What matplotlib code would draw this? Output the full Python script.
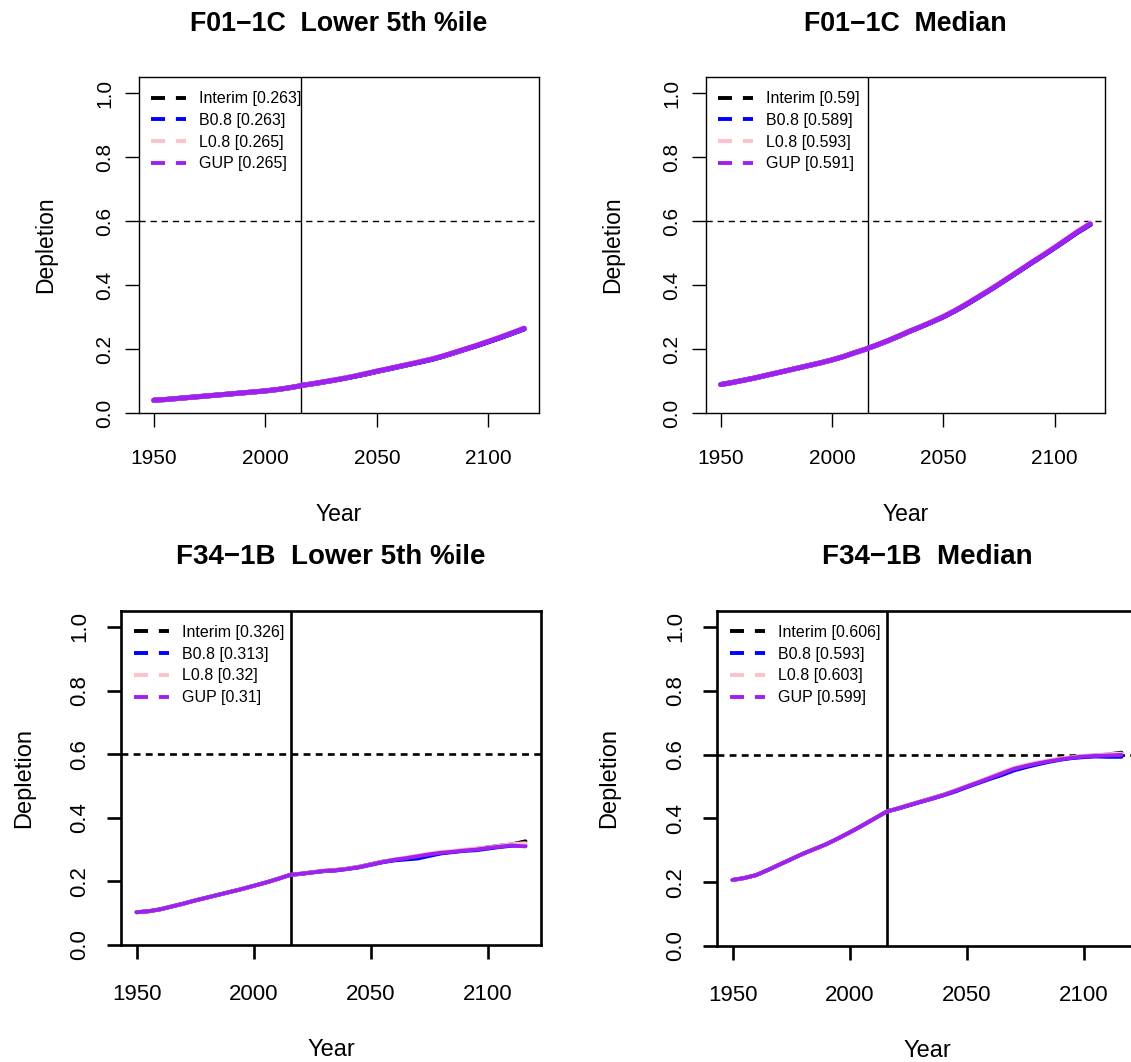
import matplotlib
matplotlib.use("Agg")
import matplotlib.pyplot as plt
from matplotlib.lines import Line2D

plt.rcParams["font.family"] = ["Liberation Sans", "DejaVu Sans"]

W, H = 1131, 1062

# ── Years ──────────────────────────────────────────────────────────────────
HIST_YEARS = [1950, 1955, 1960, 1965, 1970, 1975, 1980, 1985, 1990, 1995,
              2000, 2005, 2010, 2015, 2016]
PROJ_YEARS = [2020, 2025, 2030, 2035, 2040, 2045, 2050, 2055, 2060, 2065,
              2070, 2075, 2080, 2085, 2090, 2095, 2100, 2105, 2110, 2116]
SERIES = ["Interim", "B0.8", "L0.8", "GUP"]
COLORS = {"Interim": "black", "B0.8": "#0000FF", "L0.8": "#FFC0CB", "GUP": "#A020F0"}

# ── F01-1C lower 5th percentile ────────────────────────────────────────────
F01_LOW_HIST = [0.040, 0.042, 0.045, 0.048, 0.051, 0.054, 0.057, 0.060, 0.063,
                0.066, 0.069, 0.073, 0.078, 0.084, 0.086]
F01_LOW_INTERIM = [0.090, 0.096, 0.101, 0.108, 0.115, 0.122, 0.130, 0.138, 0.145, 0.153,
                   0.161, 0.169, 0.178, 0.189, 0.200, 0.211, 0.223, 0.235, 0.248, 0.263]
F01_LOW_B08 = [0.090, 0.095, 0.102, 0.108, 0.115, 0.122, 0.130, 0.137, 0.145, 0.153,
               0.160, 0.168, 0.178, 0.189, 0.200, 0.211, 0.223, 0.235, 0.247, 0.263]
F01_LOW_L08 = [0.090, 0.096, 0.102, 0.109, 0.116, 0.123, 0.131, 0.138, 0.146, 0.154,
               0.162, 0.170, 0.179, 0.190, 0.201, 0.213, 0.225, 0.237, 0.249, 0.265]
F01_LOW_GUP = [0.090, 0.096, 0.102, 0.108, 0.115, 0.123, 0.131, 0.138, 0.146, 0.153,
               0.161, 0.169, 0.179, 0.190, 0.201, 0.212, 0.224, 0.236, 0.249, 0.265]

# ── F01-1C median ──────────────────────────────────────────────────────────
F01_MED_HIST = [0.089, 0.095, 0.102, 0.109, 0.117, 0.125, 0.133, 0.141, 0.149,
                0.157, 0.166, 0.176, 0.188, 0.199, 0.202]
F01_MED_INTERIM = [0.212, 0.226, 0.240, 0.256, 0.270, 0.285, 0.301, 0.319, 0.338, 0.359,
                   0.381, 0.403, 0.425, 0.448, 0.471, 0.494, 0.517, 0.540, 0.564, 0.590]
F01_MED_B08 = [0.212, 0.225, 0.240, 0.255, 0.270, 0.285, 0.300, 0.318, 0.338, 0.359,
               0.380, 0.402, 0.425, 0.448, 0.471, 0.493, 0.516, 0.540, 0.564, 0.589]
F01_MED_L08 = [0.212, 0.226, 0.241, 0.256, 0.271, 0.286, 0.302, 0.320, 0.340, 0.361,
               0.382, 0.404, 0.427, 0.450, 0.473, 0.496, 0.519, 0.543, 0.567, 0.593]
F01_MED_GUP = [0.212, 0.226, 0.241, 0.256, 0.270, 0.285, 0.301, 0.319, 0.339, 0.360,
               0.381, 0.403, 0.426, 0.449, 0.472, 0.494, 0.517, 0.541, 0.565, 0.591]

# ── F34-1B lower 5th percentile ────────────────────────────────────────────
F34_LOW_HIST = [0.103, 0.106, 0.112, 0.121, 0.130, 0.140, 0.149, 0.158, 0.167,
                0.176, 0.186, 0.196, 0.207, 0.219, 0.221]
F34_LOW_INTERIM = [0.223, 0.229, 0.232, 0.236, 0.240, 0.246, 0.254, 0.262, 0.267, 0.272,
                   0.276, 0.283, 0.289, 0.294, 0.298, 0.302, 0.307, 0.312, 0.316, 0.326]
F34_LOW_B08 = [0.224, 0.228, 0.233, 0.234, 0.239, 0.244, 0.252, 0.260, 0.266, 0.269,
               0.272, 0.280, 0.288, 0.292, 0.296, 0.298, 0.303, 0.308, 0.312, 0.313]
F34_LOW_L08 = [0.224, 0.229, 0.233, 0.236, 0.240, 0.246, 0.254, 0.262, 0.269, 0.275,
               0.281, 0.288, 0.292, 0.296, 0.300, 0.303, 0.307, 0.312, 0.317, 0.320]
F34_LOW_GUP = [0.224, 0.228, 0.233, 0.235, 0.239, 0.245, 0.253, 0.261, 0.268, 0.273,
               0.279, 0.285, 0.290, 0.293, 0.297, 0.300, 0.305, 0.309, 0.313, 0.310]

# ── F34-1B median ──────────────────────────────────────────────────────────
F34_MED_HIST = [0.207, 0.213, 0.222, 0.238, 0.255, 0.272, 0.289, 0.304, 0.319,
                0.337, 0.356, 0.376, 0.397, 0.418, 0.422]
F34_MED_INTERIM = [0.430, 0.441, 0.452, 0.463, 0.474, 0.487, 0.500, 0.514, 0.528, 0.542,
                   0.555, 0.565, 0.573, 0.580, 0.586, 0.591, 0.595, 0.597, 0.600, 0.606]
F34_MED_B08 = [0.429, 0.440, 0.451, 0.461, 0.472, 0.484, 0.498, 0.511, 0.524, 0.536,
               0.550, 0.560, 0.569, 0.577, 0.584, 0.589, 0.592, 0.594, 0.593, 0.593]
F34_MED_L08 = [0.430, 0.442, 0.453, 0.463, 0.474, 0.488, 0.502, 0.515, 0.530, 0.545,
               0.558, 0.567, 0.575, 0.582, 0.588, 0.592, 0.596, 0.598, 0.601, 0.603]
F34_MED_GUP = [0.430, 0.441, 0.452, 0.462, 0.473, 0.486, 0.500, 0.513, 0.527, 0.541,
               0.555, 0.564, 0.572, 0.579, 0.585, 0.590, 0.594, 0.596, 0.597, 0.599]

LIMIT_REF = 0.6        # dashed reference level
CURRENT_YEAR = 2016    # start of projections
YTICKS = [0.0, 0.2, 0.4, 0.6, 0.8, 1.0]
XTICKS = [1950, 2000, 2050, 2100]

# top row and bottom row were exported at slightly different scales
TOP = dict(lw_axis=1.0, lw_data=3.6, title_fs=19.3, tick_fs=15, lab_fs=16.5,
           ytick_pad=8, xtick_pad=16, xlab_y=-0.268, title_pad=33, dash=(0, (4.5, 3.5)))
BOT = dict(lw_axis=1.9, lw_data=2.8, title_fs=20, tick_fs=16, lab_fs=17,
           ytick_pad=12, xtick_pad=18, xlab_y=-0.28, title_pad=34, dash=(0, (2.6, 2.0)))

PANELS = [
    dict(title="F01\u22121C  Lower 5th %ile", hist=F01_LOW_HIST,
         proj=[F01_LOW_INTERIM, F01_LOW_B08, F01_LOW_L08, F01_LOW_GUP],
         box=(139, 77, 539, 413), ylab_x=-0.205, style=TOP),
    dict(title="F01\u22121C  Median", hist=F01_MED_HIST,
         proj=[F01_MED_INTERIM, F01_MED_B08, F01_MED_L08, F01_MED_GUP],
         box=(706, 77, 1105, 413), ylab_x=-0.205, style=TOP),
    dict(title="F34\u22121B  Lower 5th %ile", hist=F34_LOW_HIST,
         proj=[F34_LOW_INTERIM, F34_LOW_B08, F34_LOW_L08, F34_LOW_GUP],
         box=(121, 611, 541, 945), ylab_x=-0.205, style=BOT),
    dict(title="F34\u22121B  Median", hist=F34_MED_HIST,
         proj=[F34_MED_INTERIM, F34_MED_B08, F34_MED_L08, F34_MED_GUP],
         box=(717, 611, 1137, 946), ylab_x=-0.23, style=BOT),
]


def fmt_final(v):
    return f"{round(v, 3):g}"


fig = plt.figure(figsize=(W / 100, H / 100), dpi=100)

for panel in PANELS:
    st = panel["style"]
    left, top, right, bottom = panel["box"]
    ax = fig.add_axes([left / W, 1 - bottom / H, (right - left) / W, (bottom - top) / H])
    lwa = st["lw_axis"]

    years = HIST_YEARS + PROJ_YEARS
    handles = []
    for name, proj in zip(SERIES, panel["proj"]):
        vals = panel["hist"] + proj
        ax.plot(years, vals, color=COLORS[name], lw=st["lw_data"],
                solid_capstyle="round", zorder=3)
        handles.append(Line2D([], [], color=COLORS[name], lw=2.8,
                              linestyle=(0, (3.6, 2.8)),
                              label=f"{name} [{fmt_final(proj[-1])}]"))

    ax.axhline(LIMIT_REF, color="black", lw=lwa, linestyle=st["dash"], zorder=2)
    ax.axvline(CURRENT_YEAR, color="black", lw=lwa, zorder=2)

    ax.set_xlim(1943.36, 2122.64)
    ax.set_ylim(0, 1.05)
    ax.set_xticks(XTICKS)
    ax.set_yticks(YTICKS)
    ax.set_yticklabels([f"{t:.1f}" for t in YTICKS], rotation=90, va="center")
    ax.tick_params(direction="out", length=10, width=lwa, labelsize=st["tick_fs"],
                   colors="black")
    ax.tick_params(axis="y", pad=st["ytick_pad"])
    ax.tick_params(axis="x", pad=st["xtick_pad"])
    for sp in ax.spines.values():
        sp.set_linewidth(lwa)
        sp.set_color("black")

    ax.set_title(panel["title"], fontsize=st["title_fs"], fontweight="bold",
                 pad=st["title_pad"])
    ax.set_xlabel("Year", fontsize=st["lab_fs"])
    ax.set_ylabel("Depletion", fontsize=st["lab_fs"])
    ax.xaxis.set_label_coords(0.5, st["xlab_y"])
    ax.yaxis.set_label_coords(panel["ylab_x"], 0.5)

    ax.legend(handles=handles, loc="upper left", bbox_to_anchor=(0.03, 0.958),
              frameon=False, fontsize=11.5, handlelength=2.2, handletextpad=0.8,
              labelspacing=0.42, borderpad=0, borderaxespad=0)

fig.savefig("out.png", dpi=100)
